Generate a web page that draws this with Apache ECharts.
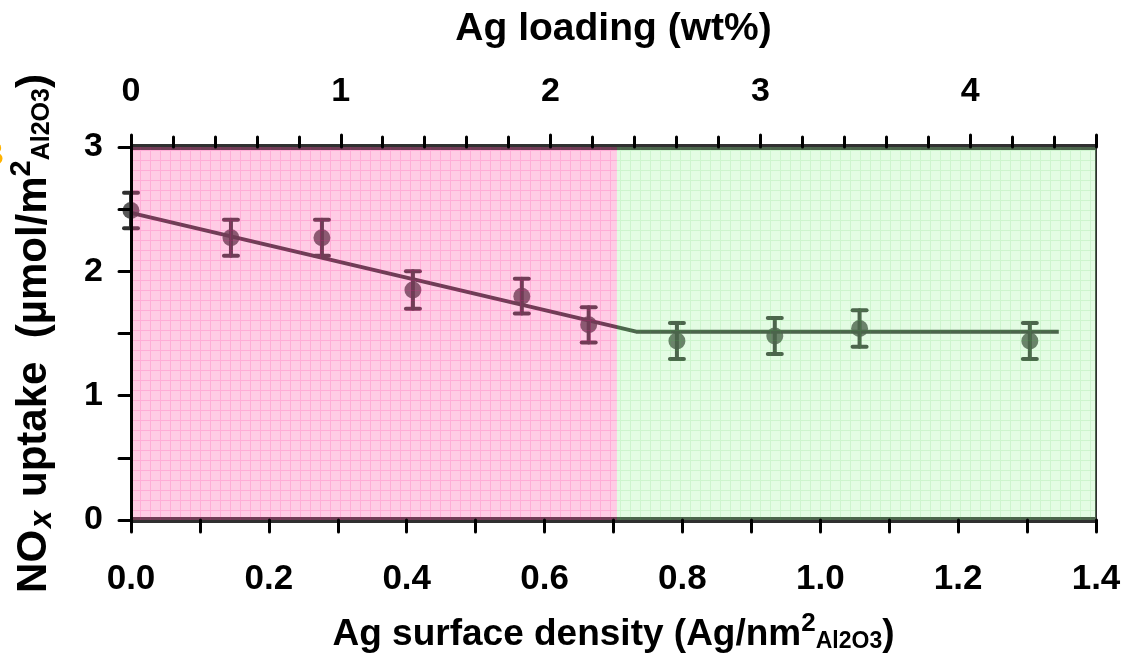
<!DOCTYPE html>
<html>
<head>
<meta charset="utf-8">
<script src="https://cdn.jsdelivr.net/npm/echarts@6/dist/echarts.min.js"></script>
<style>
html,body{margin:0;padding:0;background:#fff;}
#chart{width:1124px;height:669px;}
</style>
</head>
<body>
<div id="chart"></div>
<script>
// ---- data ----
const surfaceDensity = [0.0, 0.145, 0.277, 0.409, 0.567, 0.664, 0.792, 0.934, 1.057, 1.304];
const noxUptake      = [2.49, 2.27, 2.27, 1.85, 1.80, 1.57, 1.44, 1.48, 1.54, 1.44];
const uptakeError    = [0.143, 0.145, 0.145, 0.15, 0.14, 0.142, 0.145, 0.145, 0.147, 0.145];
const fitX = [0.0, 0.733, 1.346];
const fitY = [2.47, 1.515, 1.515];
const regionSplit = 0.705;      // boundary between the two shaded regions
const bottomTicks = [0, 1.4];   // bottom axis range
const topTicks = [0, 4.6];      // Ag loading (wt%) range
const yRange = [0, 3];

const FONT = "'Liberation Sans', Arial, Helvetica, sans-serif";
const DARK = '#303030';

function makePattern(base, line) {
  const c = document.createElement('canvas');
  c.width = 10; c.height = 10;
  const g = c.getContext('2d');
  g.fillStyle = base;
  g.fillRect(0, 0, 10, 10);
  g.clearRect(0, 0, 10, 1);
  g.clearRect(0, 0, 1, 10);
  g.fillStyle = line;
  g.fillRect(0, 0, 10, 1);
  g.fillRect(0, 1, 1, 9);
  return c;
}
const pinkPat = makePattern('rgba(255,90,170,0.31)', 'rgba(255,60,160,0.42)');
const greenPat = makePattern('rgba(150,245,150,0.27)', 'rgba(120,225,120,0.37)');

const pts = surfaceDensity.map((x, i) => [x, noxUptake[i], uptakeError[i]]);
const fit = fitX.map((x, i) => [x, fitY[i]]);

const chart = echarts.init(document.getElementById('chart'), null, {renderer: 'canvas'});

const tickStyle = {color: '#000', width: 3, cap: 'round'};

chart.setOption({
  animation: false,
  backgroundColor: '#fff',
  grid: {left: 131, right: 28, top: 147, bottom: 149, containLabel: false, outerBoundsMode: 'none'},
  graphic: [{
    type: 'text', x: 4, y: 156, z: 50,
    style: {text: 'B', font: 'bold 34px ' + FONT, fill: '#ffb300', align: 'right', verticalAlign: 'middle'}
  }],
  xAxis: [{
    type: 'value', position: 'bottom', min: bottomTicks[0], max: bottomTicks[1], interval: 0.2,
    z: 20,
    axisLine: {show: false},
    axisTick: {show: true, inside: false, length: 12, lineStyle: tickStyle},
    minorTick: {show: true, splitNumber: 2, length: 12, lineStyle: tickStyle},
    splitLine: {show: false},
    axisLabel: {fontFamily: FONT, fontWeight: 'bold', fontSize: 35, color: '#000', margin: 42,
      formatter: v => v.toFixed(1)},
    name: '{b|Ag surface density (Ag/nm}{sup|2}{sub|Al2O3}{b|)}',
    nameLocation: 'middle', nameGap: 91,
    nameTextStyle: {
      rich: {
        b: {fontFamily: FONT, fontWeight: 'bold', fontSize: 37, color: '#000'},
        sup: {fontFamily: FONT, fontWeight: 'bold', fontSize: 26, color: '#000', padding: [0, 0, 22, 0]},
        sub: {fontFamily: FONT, fontWeight: 'bold', fontSize: 23, color: '#000', padding: [14, 0, 0, 0]}
      }
    }
  }, {
    type: 'value', position: 'top', min: topTicks[0], max: topTicks[1], interval: 1,
    z: 20,
    axisLine: {show: false},
    axisTick: {show: true, inside: false, length: 12, lineStyle: tickStyle},
    minorTick: {show: true, splitNumber: 5, length: 10, lineStyle: tickStyle},
    splitLine: {show: false},
    axisLabel: {fontFamily: FONT, fontWeight: 'bold', fontSize: 34, color: '#000', margin: 38,
      showMaxLabel: false},
    name: 'Ag loading (wt%)',
    nameLocation: 'middle', nameGap: 98,
    nameTextStyle: {fontFamily: FONT, fontWeight: 'bold', fontSize: 39, color: '#000'}
  }],
  yAxis: [{
    type: 'value', min: yRange[0], max: yRange[1], interval: 1,
    z: 20,
    axisLine: {show: true, lineStyle: {color: '#000', width: 3}},
    axisTick: {show: true, inside: false, length: 12, lineStyle: tickStyle},
    minorTick: {show: true, splitNumber: 2, length: 12, lineStyle: tickStyle},
    splitLine: {show: false},
    axisLabel: {fontFamily: FONT, fontWeight: 'bold', fontSize: 34, color: '#000', margin: 28},
    name: '{b|NO}{x|x}{b| uptake  (µmol/m}{sup|2}{sub|Al2O3}{b|)}',
    nameLocation: 'middle', nameRotate: 90, nameGap: 70,
    nameTextStyle: {
      rich: {
        b: {fontFamily: FONT, fontWeight: 'bold', fontSize: 42, color: '#000'},
        x: {fontFamily: FONT, fontWeight: 'bold', fontStyle: 'italic', fontSize: 31, color: '#000', padding: [16, 2, 0, 2]},
        sup: {fontFamily: FONT, fontWeight: 'bold', fontSize: 29, color: '#000', padding: [0, 0, 25, 0]},
        sub: {fontFamily: FONT, fontWeight: 'bold', fontSize: 25, color: '#000', padding: [16, 0, 0, 0]}
      }
    }
  }],
  series: [{
    name: 'frame', type: 'line', data: [], z: 2, silent: true,
    markLine: {
      z: 2, silent: true, symbol: 'none', label: {show: false}, animation: false,
      data: [
        {yAxis: yRange[0], lineStyle: {color: DARK, width: 6, type: 'solid'}},
        {yAxis: yRange[1], lineStyle: {color: DARK, width: 6, type: 'solid'}},
        {xAxis: bottomTicks[1], lineStyle: {color: DARK, width: 2, type: 'solid'}}
      ]
    }
  }, {
    name: 'fit', type: 'line', data: fit, z: 3, symbol: 'none', silent: true,
    lineStyle: {color: DARK, width: 4}
  }, {
    name: 'error', type: 'custom', z: 4, silent: true, data: pts,
    renderItem: function (params, api) {
      const x = api.value(0), y = api.value(1), e = api.value(2);
      const t = api.coord([x, y + e]), b = api.coord([x, y - e]);
      const hw = 7;
      const st = {stroke: DARK, lineWidth: 4, lineCap: 'round'};
      return {type: 'group', children: [
        {type: 'line', shape: {x1: t[0], y1: t[1], x2: b[0], y2: b[1]}, style: st},
        {type: 'line', shape: {x1: t[0] - hw, y1: t[1], x2: t[0] + hw, y2: t[1]}, style: st},
        {type: 'line', shape: {x1: b[0] - hw, y1: b[1], x2: b[0] + hw, y2: b[1]}, style: st}
      ]};
    }
  }, {
    name: 'NOx uptake', type: 'scatter', z: 5, silent: true,
    data: pts.map(p => [p[0], p[1]]),
    symbol: 'circle', symbolSize: 17,
    itemStyle: {color: DARK}
  }, {
    name: 'regions', type: 'line', z: 10, silent: true, data: [],
    markArea: {
      z: 10, silent: true, label: {show: false},
      data: [
        [{xAxis: bottomTicks[0], yAxis: yRange[0], itemStyle: {color: {image: pinkPat, repeat: 'repeat'}}},
         {xAxis: regionSplit, yAxis: yRange[1]}],
        [{xAxis: regionSplit, yAxis: yRange[0], itemStyle: {color: {image: greenPat, repeat: 'repeat'}}},
         {xAxis: bottomTicks[1], yAxis: yRange[1]}]
      ]
    }
  }]
});
</script>
</body>
</html>
